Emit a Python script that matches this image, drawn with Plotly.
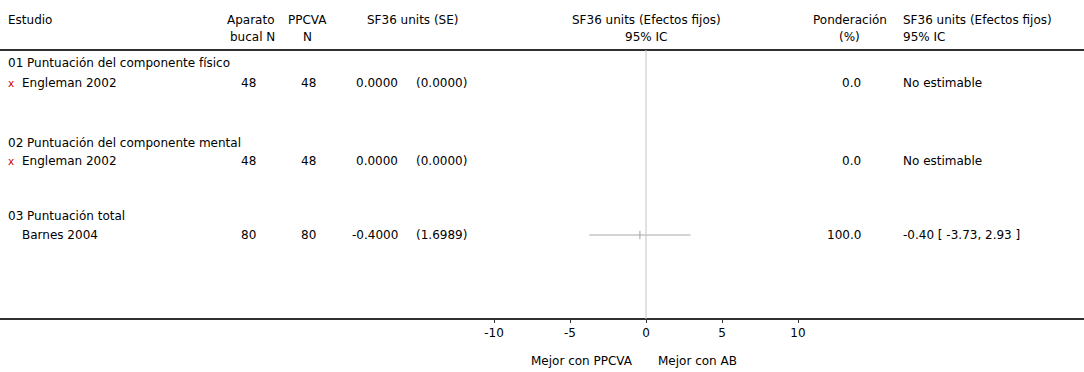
import plotly.graph_objects as go

# ---------------- data ----------------
groups = ["01 Puntuación del componente físico",
          "02 Puntuación del componente mental",
          "03 Puntuación total"]
studies = ["Engleman 2002", "Engleman 2002", "Barnes 2004"]
n_ab = [48, 48, 80]
n_ppcva = [48, 48, 80]
md = [0.0, 0.0, -0.4]
se = [0.0, 0.0, 1.6989]
weight = [0.0, 0.0, 100.0]
ci_lo = [None, None, -3.73]
ci_hi = [None, None, 2.93]
estimable = [False, False, True]
tick_vals = [-10, -5, 0, 5, 10]
tick_text = ["-10", "-5", "0", "5", "10"]
left_label = "Mejor con PPCVA"
right_label = "Mejor con AB"

# ---------------- layout helpers ----------------
W, H = 1084, 372
FONT = "DejaVu Sans"
FS = 12
TOP_LINE = 50
BOT_LINE = 319
group_y = [63, 143, 216]
study_y = [83, 161, 235]


def px(x):
    return x / W


def py(y):
    return 1 - y / H


anns = []


def txt(x, y, s, anchor="left", color="#000000", size=FS):
    anns.append(dict(x=px(x), y=py(y), xref="paper", yref="paper", text=s,
                     showarrow=False, xanchor=anchor, yanchor="middle",
                     borderpad=0,
                     font=dict(family=FONT, size=size, color=color)))


# headers
txt(7, 20, "Estudio")
txt(276, 20, "Aparato", "right")
txt(276, 37, "bucal N", "right")
txt(307, 20, "PPCVA", "center")
txt(307, 37, "N", "center")
txt(366, 20, "SF36 units (SE)")
txt(646, 20, "SF36 units (Efectos fijos)", "center")
txt(646, 37, "95% IC", "center")
txt(888, 20, "Ponderación", "right")
txt(861, 37, "(%)", "right")
txt(902, 20, "SF36 units (Efectos fijos)")
txt(902, 37, "95% IC")

for i in range(len(studies)):
    txt(7, group_y[i], groups[i])
    if not estimable[i]:
        txt(11, study_y[i], "x", "center", color="#cc0000", size=10.5)
    txt(21, study_y[i], studies[i])
    txt(257, study_y[i], str(n_ab[i]), "right")
    txt(317, study_y[i], str(n_ppcva[i]), "right")
    txt(399, study_y[i], f"{md[i]:.4f}", "right")
    txt(415, study_y[i], f"({se[i]:.4f})")
    txt(862, study_y[i], f"{weight[i]:.1f}", "right")
    if estimable[i]:
        txt(902, study_y[i], f"{md[i]:.2f} [ {ci_lo[i]:.2f}, {ci_hi[i]:.2f} ]")
    else:
        txt(902, study_y[i], "No estimable")

txt(634, 361, left_label, "right")
txt(657, 361, right_label, "left")

fig = go.Figure()

# CI lines and point estimates
for i in range(len(studies)):
    if estimable[i]:
        fig.add_trace(go.Scatter(x=[ci_lo[i], ci_hi[i]], y=[study_y[i], study_y[i]],
                                 mode="lines", line=dict(color="#a8a8a8", width=1),
                                 hoverinfo="skip", showlegend=False))
        fig.add_trace(go.Scatter(x=[md[i]], y=[study_y[i]], mode="markers",
                                 marker=dict(symbol="line-ns", size=6,
                                             line=dict(color="#a0a0a0", width=1)),
                                 hoverinfo="skip", showlegend=False))

shapes = [
    dict(type="line", xref="paper", yref="paper", x0=0, x1=1,
         y0=py(TOP_LINE), y1=py(TOP_LINE), line=dict(color="#303030", width=2)),
    dict(type="line", xref="paper", yref="paper", x0=0, x1=1,
         y0=py(BOT_LINE), y1=py(BOT_LINE), line=dict(color="#303030", width=2)),
    dict(type="line", xref="x", yref="paper", x0=0, x1=0,
         y0=py(BOT_LINE), y1=py(TOP_LINE), line=dict(color="#c4c4c4", width=1)),
]

fig.update_layout(
    width=W, height=H, margin=dict(l=0, r=0, t=0, b=0, autoexpand=False),
    paper_bgcolor="white", plot_bgcolor="white",
    annotations=anns, shapes=shapes, showlegend=False,
    xaxis=dict(domain=[px(494), px(798)], range=[-10, 10], tickvals=tick_vals,
               ticktext=tick_text, ticks="outside", ticklen=3, tickcolor="#303030",
               tickfont=dict(family=FONT, size=FS, color="#000"),
               showgrid=False, zeroline=False, showline=False, fixedrange=True),
    yaxis=dict(domain=[py(BOT_LINE), py(TOP_LINE)], range=[BOT_LINE, TOP_LINE],
               visible=False, fixedrange=True),
)

fig.write_html("out.html", config={"displayModeBar": False},
               post_script="document.body.style.margin='0';"
                           "document.body.style.overflow='hidden';")
